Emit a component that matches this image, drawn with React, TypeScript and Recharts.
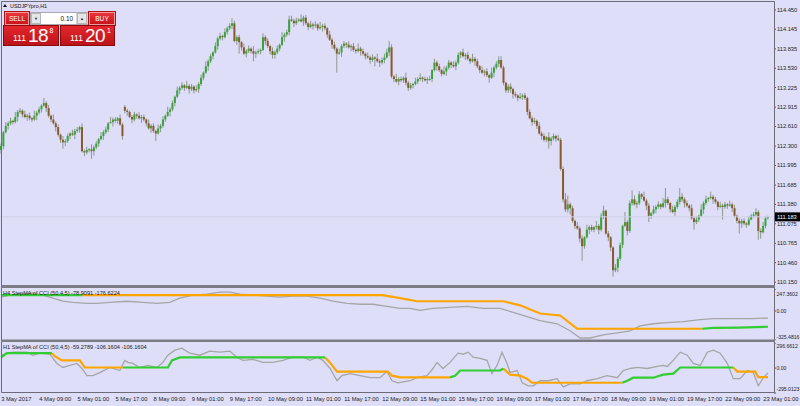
import React from "react";
import { ComposedChart, LineChart, Bar, Line, XAxis, YAxis, ReferenceLine } from "recharts";

const BG = "#dedef8";
const FONT = "'Liberation Sans', Arial, sans-serif";
const AXIS_TEXT = "#1c1c1c";
const FRAME = "#6c6c78";
const SEP = "#7c7c86";

// USDJPY H1, from 3 May 17:00 to 23 May 02:00 (weekend hours are not in the feed)
// prettier-ignore
const opens = [
  112.24,112.30,112.52,112.62,112.66,112.70,112.68,112.76,112.84,112.86,112.80,112.76,112.78,112.74,112.72,112.78,
  112.83,112.88,112.94,112.98,112.90,112.78,112.72,112.66,112.60,112.48,112.40,112.36,112.38,112.46,112.50,112.48,
  112.54,112.56,112.60,112.22,112.20,112.24,112.25,112.22,112.28,112.34,112.41,112.46,112.52,112.56,112.66,112.68,
  112.72,112.70,112.74,112.64,112.92,112.86,112.84,112.76,112.72,112.80,112.78,112.74,112.76,112.72,112.66,112.58,
  112.62,112.54,112.50,112.58,112.62,112.72,112.78,112.84,112.88,112.98,113.08,113.18,113.22,113.26,113.22,113.25,
  113.20,113.24,113.18,113.20,113.28,113.38,113.46,113.56,113.64,113.72,113.78,113.88,114.00,114.04,114.02,114.10,
  114.16,114.20,114.24,113.96,114.02,113.94,113.86,113.76,113.80,113.84,113.80,113.76,113.78,113.80,113.82,114.02,
  113.96,113.88,113.80,113.74,113.78,113.84,113.90,114.02,114.06,114.10,114.30,114.28,114.24,114.28,114.30,114.27,
  114.33,114.24,114.18,114.22,114.20,114.22,114.16,114.18,114.20,114.16,114.06,113.98,113.90,113.84,113.76,113.78,
  113.88,113.92,113.90,113.86,113.88,113.82,113.80,113.84,113.80,113.76,113.72,113.70,113.66,113.70,113.68,113.64,
  113.62,113.66,113.70,113.78,113.86,113.40,113.36,113.32,113.36,113.34,113.38,113.30,113.22,113.26,113.28,113.32,
  113.36,113.38,113.36,113.34,113.36,113.36,113.50,113.62,113.56,113.50,113.44,113.48,113.54,113.62,113.58,113.56,
  113.62,113.74,113.78,113.72,113.74,113.68,113.64,113.68,113.64,113.56,113.50,113.46,113.48,113.42,113.38,113.46,
  113.54,113.60,113.66,113.54,113.30,113.18,113.24,113.20,113.12,113.10,113.06,113.08,113.10,113.06,112.84,112.74,
  112.68,112.70,112.62,112.50,112.46,112.40,112.44,112.38,112.42,112.46,112.42,112.40,111.94,111.46,111.30,111.38,
  111.32,111.12,111.04,111.00,110.84,110.72,110.86,110.98,111.02,110.98,111.02,111.04,110.98,111.20,111.28,110.92,
  110.86,110.70,110.34,110.38,110.52,110.74,111.04,111.10,110.96,111.40,111.46,111.38,111.40,111.54,111.50,111.44,
  111.36,111.20,111.24,111.30,111.34,111.38,111.34,111.40,111.46,111.40,111.30,111.26,111.34,111.42,111.50,111.46,
  111.40,111.36,111.32,111.16,111.10,111.14,111.20,111.30,111.40,111.46,111.48,111.50,111.46,111.42,111.34,111.36,
  111.34,111.38,111.36,111.38,111.32,111.20,111.12,111.08,111.12,111.08,111.06,111.14,111.20,111.22,111.26,110.96,
  110.94,111.04,111.16,
];
// prettier-ignore
const highs = [
  112.34,112.54,112.68,112.69,112.75,112.72,112.84,112.87,112.90,112.88,112.86,112.81,112.83,112.76,112.86,112.86,
  112.92,112.96,113.06,113.01,112.95,112.80,112.80,112.69,112.64,112.50,112.46,112.41,112.50,112.52,112.56,112.57,
  112.60,112.62,112.66,112.25,112.29,112.27,112.33,112.31,112.38,112.43,112.52,112.55,112.61,112.68,112.76,112.75,
  112.76,112.76,112.80,112.67,112.95,112.89,112.86,112.79,112.84,112.82,112.84,112.79,112.80,112.74,112.72,112.65,
  112.66,112.56,112.64,112.65,112.77,112.80,112.92,112.91,113.02,113.10,113.24,113.25,113.31,113.28,113.33,113.28,
  113.28,113.26,113.26,113.31,113.43,113.48,113.64,113.67,113.76,113.80,113.94,114.03,114.09,114.06,114.16,114.19,
  114.24,114.32,114.28,114.05,114.06,113.96,113.92,113.83,113.89,113.86,113.88,113.81,113.84,113.84,114.08,114.05,
  114.00,113.90,113.86,113.81,113.89,113.92,114.10,114.09,114.14,114.36,114.36,114.31,114.33,114.32,114.38,114.36,
  114.37,114.26,114.28,114.25,114.27,114.24,114.26,114.23,114.24,114.18,114.12,114.01,113.95,113.86,113.84,113.91,
  113.96,113.94,113.96,113.91,113.93,113.84,113.92,113.87,113.84,113.78,113.78,113.73,113.75,113.72,113.76,113.67,
  113.70,113.76,113.84,113.96,113.91,113.42,113.44,113.39,113.40,113.40,113.46,113.33,113.30,113.30,113.38,113.39,
  113.45,113.40,113.40,113.39,113.41,113.52,113.68,113.65,113.60,113.52,113.56,113.57,113.66,113.64,113.64,113.65,
  113.78,113.80,113.84,113.77,113.79,113.70,113.76,113.71,113.68,113.58,113.56,113.51,113.53,113.44,113.54,113.57,
  113.64,113.72,113.72,113.57,113.32,113.28,113.29,113.22,113.16,113.12,113.14,113.13,113.14,113.08,112.88,112.77,
  112.75,112.72,112.68,112.53,112.50,112.46,112.52,112.45,112.50,112.48,112.48,112.43,111.98,111.56,111.52,111.41,
  111.36,111.14,111.10,111.03,110.89,110.88,111.06,111.05,111.06,111.04,111.12,111.07,111.24,111.36,111.30,110.96,
  110.88,110.72,110.44,110.55,110.78,111.06,111.26,111.13,111.44,111.60,111.52,111.43,111.59,111.56,111.58,111.47,
  111.40,111.26,111.36,111.37,111.43,111.40,111.48,111.64,111.50,111.42,111.36,111.37,111.46,111.64,111.56,111.49,
  111.44,111.38,111.38,111.19,111.19,111.22,111.38,111.43,111.52,111.50,111.58,111.53,111.50,111.44,111.42,111.39,
  111.42,111.40,111.44,111.41,111.37,111.22,111.16,111.15,111.16,111.10,111.20,111.23,111.26,111.32,111.29,111.00,
  111.10,111.19,111.20,
];
// prettier-ignore
const lows = [
  112.18,112.25,112.50,112.56,112.63,112.64,112.66,112.69,112.81,112.75,112.74,112.70,112.71,112.68,112.70,112.71,
  112.80,112.83,112.92,112.84,112.75,112.68,112.64,112.53,112.45,112.35,112.26,112.30,112.35,112.41,112.46,112.41,
  112.51,112.51,112.20,112.14,112.17,112.20,112.10,112.15,112.25,112.29,112.39,112.40,112.49,112.52,112.66,112.61,
  112.67,112.65,112.62,112.40,112.82,112.78,112.74,112.66,112.69,112.73,112.72,112.67,112.69,112.61,112.56,112.51,
  112.51,112.38,112.48,112.52,112.59,112.68,112.76,112.77,112.85,112.93,113.06,113.12,113.19,113.17,113.20,113.13,
  113.17,113.13,113.16,113.14,113.25,113.34,113.44,113.49,113.61,113.67,113.76,113.82,113.97,113.97,114.00,114.06,
  114.13,114.15,113.94,113.90,113.76,113.81,113.74,113.70,113.77,113.76,113.64,113.69,113.75,113.75,113.80,113.90,
  113.85,113.75,113.68,113.68,113.75,113.80,113.88,113.95,114.03,114.05,114.26,114.18,114.21,114.26,114.25,114.20,
  114.21,114.13,114.16,114.14,114.17,114.12,114.14,114.11,114.13,114.01,113.96,113.84,113.81,113.46,113.74,113.71,
  113.85,113.85,113.84,113.80,113.79,113.76,113.78,113.73,113.73,113.67,113.68,113.60,113.63,113.56,113.62,113.55,
  113.59,113.61,113.68,113.72,113.37,113.31,113.30,113.26,113.31,113.30,113.26,113.17,113.19,113.21,113.26,113.28,
  113.33,113.31,113.32,113.28,113.33,113.31,113.48,113.49,113.47,113.40,113.42,113.41,113.51,113.53,113.54,113.50,
  113.59,113.69,113.70,113.66,113.65,113.60,113.62,113.57,113.53,113.45,113.44,113.40,113.39,113.30,113.36,113.39,
  113.51,113.55,113.52,113.26,113.14,113.14,113.14,113.05,113.07,113.01,113.04,113.03,113.03,112.79,112.72,112.62,
  112.65,112.57,112.48,112.40,112.37,112.36,112.26,112.31,112.39,112.37,112.38,111.91,111.41,111.26,111.25,111.22,
  111.09,110.99,110.98,110.78,110.49,110.68,110.84,110.91,110.95,110.94,110.98,110.91,110.95,111.15,110.90,110.80,
  110.64,110.24,110.31,110.31,110.49,110.69,111.02,110.89,110.93,111.36,111.36,111.32,111.37,111.46,111.42,111.29,
  111.10,111.15,111.22,111.24,111.31,111.30,111.32,111.33,111.37,111.25,111.24,111.20,111.31,111.38,111.42,111.33,
  111.33,111.27,111.14,110.98,111.07,111.10,111.18,111.23,111.37,111.42,111.46,111.39,111.39,111.29,111.32,111.14,
  111.31,111.31,111.34,111.26,111.17,111.08,110.92,111.01,111.05,111.01,111.04,111.13,111.17,111.18,110.82,110.84,
  110.92,111.00,111.14,
];
// prettier-ignore
const closes = [
  112.30,112.52,112.62,112.66,112.70,112.68,112.76,112.84,112.86,112.80,112.76,112.78,112.74,112.72,112.78,112.83,
  112.88,112.94,112.98,112.90,112.78,112.72,112.66,112.60,112.48,112.40,112.36,112.38,112.46,112.50,112.48,112.54,
  112.56,112.60,112.22,112.20,112.24,112.25,112.22,112.28,112.34,112.41,112.46,112.52,112.56,112.66,112.68,112.72,
  112.70,112.74,112.64,112.46,112.86,112.84,112.76,112.72,112.80,112.78,112.74,112.76,112.72,112.66,112.58,112.62,
  112.54,112.50,112.58,112.62,112.72,112.78,112.84,112.88,112.98,113.08,113.18,113.22,113.26,113.22,113.25,113.20,
  113.24,113.18,113.20,113.28,113.38,113.46,113.56,113.64,113.72,113.78,113.88,114.00,114.04,114.02,114.10,114.16,
  114.20,114.24,113.96,114.02,113.94,113.86,113.76,113.80,113.84,113.80,113.76,113.78,113.80,113.82,114.02,113.96,
  113.88,113.80,113.74,113.78,113.84,113.90,114.02,114.06,114.10,114.30,114.28,114.24,114.28,114.30,114.27,114.33,
  114.24,114.18,114.22,114.20,114.22,114.16,114.18,114.20,114.16,114.06,113.98,113.90,113.84,113.76,113.78,113.88,
  113.92,113.90,113.86,113.88,113.82,113.80,113.84,113.80,113.76,113.72,113.70,113.66,113.70,113.68,113.64,113.62,
  113.66,113.70,113.78,113.86,113.40,113.36,113.32,113.36,113.34,113.38,113.30,113.22,113.26,113.28,113.32,113.36,
  113.38,113.36,113.34,113.36,113.36,113.50,113.62,113.56,113.50,113.44,113.48,113.54,113.62,113.58,113.56,113.62,
  113.74,113.78,113.72,113.74,113.68,113.64,113.68,113.64,113.56,113.50,113.46,113.48,113.42,113.38,113.46,113.54,
  113.60,113.66,113.54,113.30,113.18,113.24,113.20,113.12,113.10,113.06,113.08,113.10,113.06,112.84,112.74,112.68,
  112.70,112.62,112.50,112.46,112.40,112.44,112.38,112.42,112.46,112.42,112.40,111.94,111.46,111.30,111.38,111.32,
  111.12,111.04,111.00,110.84,110.72,110.86,110.98,111.02,110.98,111.02,111.04,110.98,111.20,111.28,110.92,110.86,
  110.70,110.34,110.38,110.52,110.74,111.04,111.10,110.96,111.40,111.46,111.38,111.40,111.54,111.50,111.44,111.36,
  111.20,111.24,111.30,111.34,111.38,111.34,111.40,111.46,111.40,111.30,111.26,111.34,111.42,111.50,111.46,111.40,
  111.36,111.32,111.16,111.10,111.14,111.20,111.30,111.40,111.46,111.48,111.50,111.46,111.42,111.34,111.36,111.34,
  111.38,111.36,111.38,111.32,111.20,111.12,111.08,111.12,111.08,111.06,111.14,111.20,111.22,111.26,110.96,110.94,
  111.04,111.16,111.18,
];

const lastPrice = 111.183;
const priceTicks = [114.45, 114.145, 113.835, 113.53, 113.225, 112.915, 112.61, 112.3, 111.995, 111.685, 111.38, 111.075, 110.765, 110.46, 110.15];

const timeLabels = [
  "3 May 2017", "4 May 09:00", "5 May 01:00", "5 May 17:00", "8 May 09:00", "9 May 01:00", "9 May 17:00",
  "10 May 09:00", "11 May 01:00", "11 May 17:00", "12 May 09:00", "15 May 01:00", "15 May 17:00", "16 May 09:00",
  "17 May 01:00", "17 May 17:00", "18 May 09:00", "19 May 01:00", "19 May 17:00", "22 May 09:00", "23 May 01:00",
];
const timeLabelBars = [0, 16, 32, 48, 64, 80, 96, 112, 128, 144, 160, 176, 192, 208, 224, 240, 256, 272, 288, 304, 320];

// indicator points: [bar index, value]
// prettier-ignore
const h4Cci: [number, number][] = [
  [0,156],[3.6,179],[7.8,190],[13.3,202],[17.5,179],[21.7,144],[25.9,110],[30.1,98],[36,87],[40.2,87],[45.6,98],
  [52.8,110],[59.5,98],[65.4,87],[70.8,98],[75,144],[80.5,179],[86.4,190],[91.9,213],[96,213],[100.3,190],[105.7,179],
  [111.6,167],[117,156],[122.5,167],[128.4,167],[133.9,144],[139.3,110],[145.2,87],[150.7,76],[156.1,76],[162,53],
  [167.5,30],[171.7,30],[175.9,7],[181.3,30],[188.5,41],[195.6,53],[202.4,30],[209.5,30],[215,-16],[220.8,-62],
  [226.3,-108],[233.4,-143],[238.9,-222],[243.1,-303],[247.3,-303],[252.8,-268],[258.7,-245],[264.1,-222],[268.3,-166],
  [273.8,-143],[279.7,-131],[286.4,-119],[293.5,-96],[299,-85],[307.4,-85],[315.8,-85],[322,-78.9],
];
const h4StepGreen: [number, number][][] = [
  [[0, 179], [34, 179]],
  [[294.4, -199], [299, -190], [310, -186], [322, -176.6]],
];
const h4StepOrange: [number, number][][] = [
  [[34, 179], [160, 179], [167.5, 144], [174.6, 110], [210.8, 110], [217.9, 64], [226.3, -28], [234.7, -50], [241.8, -199], [294.4, -199]],
];

// prettier-ignore
const h1Cci: [number, number][] = [
  [0,152],[4.9,188],[10.8,188],[13.3,152],[16.2,176],[20.4,164],[23.4,55],[25.9,7],[28.8,31],[31.8,55],[33.9,-5],
  [36,-90],[38.5,-90],[41.4,-53],[45.6,7],[49.8,-29],[51.9,91],[53.2,67],[55.3,55],[58.2,7],[61.6,31],[65.4,7],
  [67.9,67],[70,152],[72.9,212],[75.9,236],[79.2,176],[83.4,152],[87.6,200],[91.8,188],[96,200],[99,128],[101.5,91],
  [105.7,103],[109.9,67],[114.1,67],[118.3,91],[122.5,128],[126.7,128],[129.7,91],[132.6,128],[135.1,91],[138.1,-5],
  [141,-150],[143.1,-90],[146.5,-66],[150.7,-90],[154.9,-114],[159.1,-114],[162,-41],[164.1,-150],[166.6,-174],
  [171.7,-150],[174.6,-114],[178.8,-90],[181.3,-5],[183,67],[185.5,-5],[188.5,67],[191.8,176],[194,164],[196.1,188],
  [198.2,128],[201.1,116],[204,91],[206.1,-66],[208.2,31],[210.3,188],[212.4,55],[213.7,-53],[216.6,-29],[218.8,-174],
  [221.3,-210],[223.4,-210],[226.3,-150],[229.7,-150],[233.4,-126],[236,-222],[238.9,-186],[243.1,-186],[246,-150],
  [250.3,-126],[254.4,-90],[258.7,-114],[261.2,-29],[264.1,-5],[267,7],[271.3,-5],[275.5,19],[278,31],[279.7,19],
  [282.2,91],[285.1,188],[288.1,152],[290.6,55],[293.5,31],[296.5,188],[299,212],[301.9,176],[304.9,55],[307.4,-126],
  [310.3,-126],[313.3,-29],[315.8,-53],[317.9,-210],[320,-114],[322,-59.3],
];
const h1StepGreen: [number, number][][] = [
  [[0, 128], [2.4, 176], [21.3, 176]],
  [[51.1, 7], [70, 7], [71.7, 91], [75, 126], [136, 126]],
  [[188.5, -110], [190.6, -90], [192.7, -29], [209.5, -29], [210.8, -5]],
  [[260.8, -174], [262.9, -150], [265.4, -114], [273.8, -114], [278, -78], [282.2, -66], [285.1, 7], [307.4, 7]],
];
const h1StepOrange: [number, number][][] = [
  [[21.3, 176], [22.5, 140], [25.5, 91], [33, 91], [35.1, 7], [51.1, 7]],
  [[136, 126], [138, 67], [141, -41], [162.4, -41], [164.1, -90], [167.5, -110], [188.5, -110]],
  [[210.8, -5], [213.7, -78], [217.9, -90], [220.8, -126], [222.9, -174], [260.8, -174]],
  [[307.4, 7], [309.1, -41], [316.6, -41], [317.9, -106.2], [322, -106.2]],
];

const SLOTS = 325; // the chart is shifted: two empty hours after the last bar
const rows = Array.from({ length: SLOTS }, (_, i) =>
  i < closes.length
    ? { i, o: opens[i], h: highs[i], l: lows[i], c: closes[i], hl: [lows[i], highs[i]] }
    : { i }
);
const pts = (a: [number, number][]) => a.map(([x, v]) => ({ x, v }));
const X_DOMAIN: [number, number] = [-0.5, SLOTS - 0.5];

function Candle(props: any) {
  const { x, y, width, height, payload } = props;
  if (!payload || payload.c == null) return null;
  const { o, h, l, c } = payload;
  const top = Math.min(y, y + height);
  const span = Math.abs(height);
  const py = (p: number) => top + (h === l ? 0 : ((h - p) / (h - l)) * span);
  const cx = x + width / 2;
  const bTop = py(Math.max(o, c));
  const bH = Math.max(py(Math.min(o, c)) - bTop, 1);
  const bw = 2;
  return (
    <g>
      <line x1={cx} x2={cx} y1={top} y2={top + span} stroke="#8e988e" strokeWidth={1} />
      <rect x={cx - bw / 2} y={bTop} width={bw} height={bH} fill={c >= o ? "#35a635" : "#8a5a2e"} />
    </g>
  );
}

function ValueTick(props: any) {
  const { x, y, payload, digits, shift, size = 5.7 } = props;
  const v = payload.value as number;
  const label = v === 0 ? "0.00" : v.toFixed(digits);
  const dy = shift && shift[label] != null ? shift[label] : 0;
  return (
    <text x={x} y={y + dy} fontSize={size} fontFamily={FONT} fill={AXIS_TEXT} dominantBaseline="central">
      {label}
    </text>
  );
}

function TimeTick(props: any) {
  const { x, y, payload } = props;
  const k = timeLabelBars.indexOf(payload.value);
  return (
    <text x={x} y={y + 6} fontSize={5.8} fontFamily={FONT} fill={AXIS_TEXT} dominantBaseline="central">
      {timeLabels[k]}
    </text>
  );
}

function PriceTag(props: any) {
  const vb = props.viewBox;
  const x = vb.x + vb.width;
  return (
    <g>
      <rect x={x + 1} y={vb.y - 4.5} width={26} height={9} fill="#000" />
      <text x={x + 3} y={vb.y} fontSize={5.7} fontFamily={FONT} fill="#fff" dominantBaseline="central">
        {lastPrice.toFixed(3)}
      </text>
    </g>
  );
}

const red = "linear-gradient(#e4262c, #bb1419)";

function OneClick() {
  const abs = { position: "absolute" } as const;
  const btn = {
    ...abs,
    top: 12,
    height: 13,
    background: "linear-gradient(#e8343a, #c8161c)",
    border: "1px solid #f29a9a",
    outline: "1px solid #b01016",
    boxSizing: "border-box",
    color: "#fff",
    fontSize: 6.6,
    display: "flex",
    alignItems: "center",
    justifyContent: "center",
  } as const;
  const box = { ...abs, top: 25, height: 21, background: red, border: "1px solid #8a0a0e", boxSizing: "border-box" } as const;
  const txt = { ...abs, color: "#fff", lineHeight: 1, whiteSpace: "nowrap" } as const;
  const arrow = {
    ...abs,
    top: 13,
    width: 10,
    height: 11,
    background: "#e6e6e6",
    border: "1px solid #b8b8b8",
    boxSizing: "border-box",
    fontSize: 4,
    color: "#222",
    display: "flex",
    alignItems: "center",
    justifyContent: "center",
  } as const;
  return (
    <div style={{ ...abs, left: 0, top: 0, width: 120, height: 48, fontFamily: FONT }}>
      <div style={{ ...abs, left: 3, top: 4, width: 0, height: 0, borderLeft: "2px solid transparent", borderRight: "2px solid transparent", borderBottom: "3px solid #111" }} />
      <div style={{ ...abs, left: 10, top: 3, fontSize: 5.4, color: "#111", lineHeight: "6px" }}>USDJPYpro,H1</div>

      <div style={{ ...btn, left: 5, width: 24 }}>SELL</div>
      <div style={{ ...abs, left: 29.5, top: 12, width: 59, height: 13, background: "#d4d4d8", border: "1px solid #a8a8ae", boxSizing: "border-box" }} />
      <div style={{ ...arrow, left: 31 }}>▼</div>
      <div style={{ ...abs, left: 41, top: 13, width: 35, height: 11, background: "#fff", fontSize: 6.4, color: "#111", textAlign: "right", lineHeight: "11px", paddingRight: 3, boxSizing: "border-box" }}>0.10</div>
      <div style={{ ...arrow, left: 77 }}>▲</div>
      <div style={{ ...btn, left: 89, width: 26 }}>BUY</div>

      <div style={{ ...box, left: 3, width: 56 }} />
      <div style={{ ...box, left: 60, width: 55 }} />
      <div style={{ ...txt, left: 13, top: 34, fontSize: 8.5 }}>111</div>
      <div style={{ ...txt, left: 28, top: 25.5, fontSize: 19, letterSpacing: -0.5 }}>18</div>
      <div style={{ ...txt, left: 49.5, top: 27, fontSize: 7 }}>8</div>
      <div style={{ ...txt, left: 70, top: 34, fontSize: 8.5 }}>111</div>
      <div style={{ ...txt, left: 85, top: 25.5, fontSize: 19, letterSpacing: -0.5 }}>20</div>
      <div style={{ ...txt, left: 107, top: 27, fontSize: 7 }}>1</div>
    </div>
  );
}

const lineBase = { dataKey: "v", dot: false, isAnimationActive: false, type: "linear" as const };

export default function App() {
  return (
    <div style={{ position: "relative", width: 800, height: 406, background: BG, overflow: "hidden", fontFamily: FONT }}>
      <style>{"body{margin:0}"}</style>

      {/* price window */}
      <div style={{ position: "absolute", left: 0, top: 3 }}>
        <ComposedChart width={800} height={282} data={rows} margin={{ top: 0, right: 0, bottom: 0, left: 0 }} barCategoryGap={0} barGap={0}>
          <XAxis dataKey="i" hide />
          <YAxis
            orientation="right"
            width={26}
            domain={[110.107, 114.56]}
            allowDataOverflow
            ticks={priceTicks}
            interval={0}
            axisLine={false}
            tickSize={2}
            tickMargin={1}
            tickLine={{ stroke: "#555" }}
            tick={<ValueTick digits={3} />}
          />
          <ReferenceLine y={lastPrice} stroke="#d0d0e8" strokeWidth={1} label={<PriceTag />} />
          <Bar dataKey="hl" shape={<Candle />} isAnimationActive={false} />
        </ComposedChart>
      </div>

      {/* H4 StepMA of CCI */}
      <div style={{ position: "absolute", left: 0, top: 289 }}>
        <LineChart width={800} height={51} margin={{ top: 0, right: 0, bottom: 0, left: 0 }}>
          <XAxis type="number" dataKey="x" domain={X_DOMAIN} allowDataOverflow hide />
          <YAxis
            orientation="right"
            width={26}
            domain={[-325.4816, 247.3602]}
            allowDataOverflow
            ticks={[247.3602, 0, -325.4816]}
            interval={0}
            axisLine={false}
            tickSize={2}
            tickMargin={0.5}
            tickLine={{ stroke: "#555" }}
            tick={<ValueTick digits={4} size={5.1} shift={{ "247.3602": 4.5, "-325.4816": -3.5 }} />}
          />
          <Line {...lineBase} data={pts(h4Cci)} stroke="#a6a6a6" strokeWidth={1.3} />
          {h4StepOrange.map((s, k) => (
            <Line key={"o" + k} {...lineBase} data={pts(s)} stroke="#ffa500" strokeWidth={2.2} />
          ))}
          {h4StepGreen.map((s, k) => (
            <Line key={"g" + k} {...lineBase} data={pts(s)} stroke="#32cd32" strokeWidth={2.2} />
          ))}
        </LineChart>
      </div>

      {/* H1 StepMA of CCI + time scale */}
      <div style={{ position: "absolute", left: 0, top: 343 }}>
        <LineChart width={800} height={64} margin={{ top: 0, right: 0, bottom: 0, left: 0 }}>
          <XAxis
            type="number"
            dataKey="x"
            domain={X_DOMAIN}
            allowDataOverflow
            ticks={timeLabelBars}
            interval={0}
            height={14}
            axisLine={false}
            tickLine={false}
            tickSize={0}
            tickMargin={0}
            tick={<TimeTick />}
          />
          <YAxis
            orientation="right"
            width={26}
            domain={[-295.0123, 296.6612]}
            allowDataOverflow
            ticks={[296.6612, 0, -295.0123]}
            interval={0}
            axisLine={false}
            tickSize={2}
            tickMargin={0.5}
            tickLine={{ stroke: "#555" }}
            tick={<ValueTick digits={4} size={5.1} shift={{ "296.6612": 3, "-295.0123": -4.5 }} />}
          />
          <Line {...lineBase} data={pts(h1Cci)} stroke="#a6a6a6" strokeWidth={1.3} />
          {h1StepOrange.map((s, k) => (
            <Line key={"o" + k} {...lineBase} data={pts(s)} stroke="#ffa500" strokeWidth={2.2} />
          ))}
          {h1StepGreen.map((s, k) => (
            <Line key={"g" + k} {...lineBase} data={pts(s)} stroke="#32cd32" strokeWidth={2.2} />
          ))}
        </LineChart>
      </div>

      {/* window frames and separators */}
      <svg width={800} height={406} style={{ position: "absolute", left: 0, top: 0, pointerEvents: "none" }}>
        <line x1={1.5} y1={1.5} x2={774.5} y2={1.5} stroke={FRAME} />
        <line x1={1.5} y1={1.5} x2={1.5} y2={392.5} stroke={FRAME} />
        <line x1={774.5} y1={1.5} x2={774.5} y2={392.5} stroke={FRAME} />
        <rect x={1} y={285} width={774} height={3} fill={SEP} />
        <rect x={1} y={339.5} width={774} height={2.5} fill={SEP} />
        <line x1={1.5} y1={392.5} x2={774.5} y2={392.5} stroke={FRAME} />
        <text x={3} y={293} fontSize={5.6} fontFamily={FONT} fill="#1c1c1c" dominantBaseline="central">
          H4 StepMA of CCI (50,4,5) -78.9091 -176.6224
        </text>
        <text x={3} y={347} fontSize={5.6} fontFamily={FONT} fill="#1c1c1c" dominantBaseline="central">
          H1 StepMA of CCI (50,4,5) -59.2789 -106.1604 -106.1604
        </text>
      </svg>

      <OneClick />
    </div>
  );
}
